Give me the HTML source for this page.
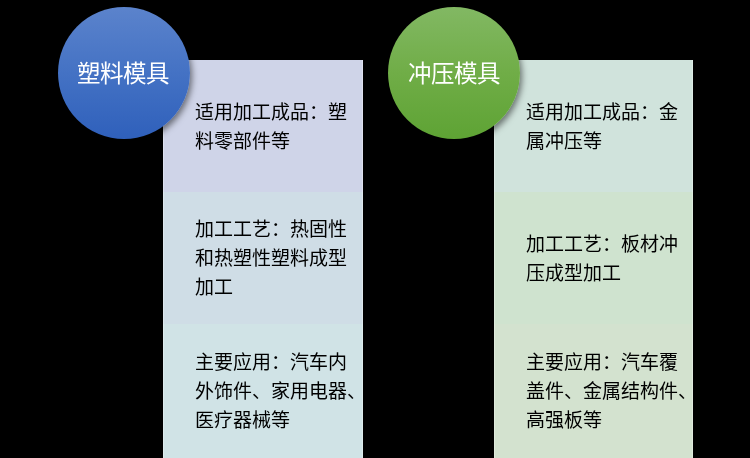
<!DOCTYPE html>
<html lang="zh-CN"><head><meta charset="utf-8">
<style>
html,body{margin:0;padding:0;background:#000;width:750px;height:458px;overflow:hidden;}
body{position:relative;font-family:"Liberation Sans",sans-serif;}
.panel{position:absolute;top:60px;width:200px;height:398px;}
.sec{position:absolute;left:0;width:200px;height:132px;box-sizing:border-box;}
.sec::before,.sec::after{content:"";position:absolute;top:0;bottom:0;width:1px;background:rgba(255,255,255,0.3);}
.sec::before{left:0}.sec::after{right:0}
.txt{position:absolute;left:32px;font-size:19px;line-height:29px;color:#000;white-space:nowrap;transform:translateZ(0);}
.circle{position:absolute;top:7px;width:132px;height:132px;border-radius:50%;box-shadow:2px 3px 6px rgba(0,0,0,0.5);}
.ctxt{position:absolute;left:-1px;width:132px;top:52px;text-align:center;font-size:23.5px;line-height:30px;color:#fff;white-space:nowrap;}
</style></head><body>
<div class="panel" style="left:163px">
  <div class="sec" style="top:0;background:#cfd4e8"><div class="txt" style="top:38px">适用加工成品：塑<br>料零部件等</div></div>
  <div class="sec" style="top:132px;background:#cfdde6"><div class="txt" style="top:23px">加工工艺：热固性<br>和热塑性塑料成型<br>加工</div></div>
  <div class="sec" style="top:264px;height:134px;background:#d0e3e6"><div class="txt" style="top:24px">主要应用：汽车内<br>外饰件、家用电器、<br>医疗器械等</div></div>
</div>
<div class="panel" style="left:494px;width:199px">
  <div class="sec" style="top:0;width:199px;background:#d0e3dc"><div class="txt" style="top:38px">适用加工成品：金<br>属冲压等</div></div>
  <div class="sec" style="top:132px;width:199px;background:#cfe3cf"><div class="txt" style="top:38px">加工工艺：板材冲<br>压成型加工</div></div>
  <div class="sec" style="top:264px;width:199px;height:134px;background:#d3e2cf"><div class="txt" style="top:24px">主要应用：汽车覆<br>盖件、金属结构件、<br>高强板等</div></div>
</div>
<div class="circle" style="left:58px;background:linear-gradient(180deg,#5b83cc 0%,#4472c4 50%,#2f60bb 100%)"><div class="ctxt">塑料模具</div></div>
<div class="circle" style="left:388px;background:linear-gradient(180deg,#82b863 0%,#70ad47 50%,#5ea334 100%)"><div class="ctxt" style="left:0px">冲压模具</div></div>
</body></html>
